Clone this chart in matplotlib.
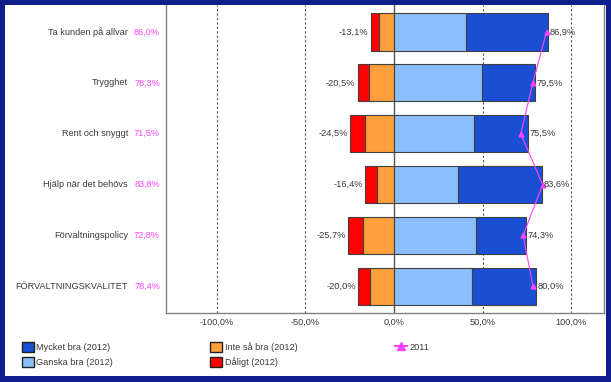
import matplotlib
matplotlib.use('Agg')
import matplotlib.pyplot as plt
from matplotlib.patches import Patch, Rectangle
from matplotlib.lines import Line2D
import numpy as np

plt.rcParams['font.family'] = ['Liberation Sans', 'DejaVu Sans']

categories = ['Ta kunden på allvar', 'Trygghet', 'Rent och snyggt',
              'Hjälp när det behövs', 'Förvaltningspolicy', 'FÖRVALTNINGSKVALITET']
mycket_bra = [46.1, 29.7, 30.6, 47.6, 28.2, 36.1]
ganska_bra = [40.8, 49.8, 44.9, 36.0, 46.1, 43.9]
inte_sa_bra = [8.6, 14.1, 16.5, 9.3, 17.6, 13.5]
daligt = [4.5, 6.4, 8.0, 7.1, 8.1, 6.5]
pos_total = [86.9, 79.5, 75.5, 83.6, 74.3, 80.0]
neg_total = [13.1, 20.5, 24.5, 16.4, 25.7, 20.0]
y2011 = [86.0, 78.3, 71.5, 83.8, 72.8, 78.4]
xticks = [-100, -50, 0, 50, 100]

c_mycket = '#1a4fd4'
c_ganska = '#8cbfff'
c_inte = '#ffa03c'
c_dalig = '#ff0000'
c_pink = '#ff44ff'
c_text = '#3a3a3a'
edge = '#404040'

def fmt(v):
    return f'{v:.1f}'.replace('.', ',') + '%'

fig = plt.figure(figsize=(6.11, 3.82), dpi=100)
ax = fig.add_axes([166/611, (382-313.3)/382, 438/611, 308.3/382])

y = np.arange(len(categories))
h = 0.73
mb = np.array(mycket_bra); gb = np.array(ganska_bra)
ib = np.array(inte_sa_bra); db = np.array(daligt)

ax.barh(y, gb, height=h, left=0, color=c_ganska, edgecolor=edge, lw=0.8, zorder=3)
ax.barh(y, mb, height=h, left=gb, color=c_mycket, edgecolor=edge, lw=0.8, zorder=3)
ax.barh(y, -ib, height=h, left=0, color=c_inte, edgecolor=edge, lw=0.8, zorder=3)
ax.barh(y, -db, height=h, left=-ib, color=c_dalig, edgecolor=edge, lw=0.8, zorder=3)

ax.plot(y2011, y, color=c_pink, lw=0.8, marker='^', ms=3.5, zorder=5)

for i in range(len(categories)):
    ax.annotate(fmt(-neg_total[i]), (-neg_total[i], y[i]), xytext=(-1.5, 0),
                textcoords='offset points', ha='right', va='center',
                fontsize=6.7, color=c_text, zorder=6)
    ax.annotate(fmt(pos_total[i]), (pos_total[i], y[i]), xytext=(1.2, 0),
                textcoords='offset points', ha='left', va='center',
                fontsize=6.7, color=c_text, zorder=6)
    ax.text(-0.087, y[i], categories[i], transform=ax.get_yaxis_transform(),
            ha='right', va='center', fontsize=6.6, color=c_text)
    ax.text(-0.0137, y[i], fmt(y2011[i]), transform=ax.get_yaxis_transform(),
            ha='right', va='center', fontsize=6.6, color=c_pink)

for t in xticks:
    if t == 0:
        ax.axvline(t, color='#555555', lw=1.0, zorder=2)
    else:
        ax.axvline(t, color='#555555', lw=0.8, ls=(0, (2, 2)), zorder=2)

ax.set_xlim(-128.5, 118.4)
ax.set_ylim(len(categories) - 1 + 0.53, -0.53)
ax.set_xticks(xticks)
ax.set_xticklabels([fmt(t) for t in xticks], fontsize=6.6, color=c_text)
ax.tick_params(axis='x', length=0, pad=3)
ax.set_yticks([])
for s in ax.spines.values():
    s.set_color('#808080')
    s.set_linewidth(1.0)
ax.spines['top'].set_visible(False)

handles = [Patch(facecolor=c_mycket, edgecolor='#202020', label='Mycket bra (2012)'),
           Patch(facecolor=c_ganska, edgecolor='#202020', label='Ganska bra (2012)'),
           Patch(facecolor=c_inte, edgecolor='#202020', label='Inte så bra (2012)'),
           Patch(facecolor=c_dalig, edgecolor='#202020', label='Dåligt (2012)'),
           Line2D([], [], color=c_pink, lw=1.5, marker='^', ms=6, label='2011')]
fig.legend(handles=handles, ncol=3, loc='upper left',
           bbox_to_anchor=(21.7/611, 1 - 342/382), frameon=False,
           fontsize=6.6, handlelength=1.3, handleheight=1.3,
           handletextpad=0.3, columnspacing=10.6, labelspacing=0.55,
           borderpad=0, borderaxespad=0, labelcolor=c_text)

# blue frame around the figure
bc = '#101e8c'
for (x0, y0, w, hh) in [(0, 0, 5/611, 1), (1 - 5/611, 0, 5/611, 1),
                        (0, 1 - 5/382, 1, 5/382), (0, 0, 1, 6/382)]:
    fig.patches.append(Rectangle((x0, y0), w, hh, transform=fig.transFigure,
                                 facecolor=bc, edgecolor='none', zorder=10))

fig.savefig('out.png', dpi=100)
